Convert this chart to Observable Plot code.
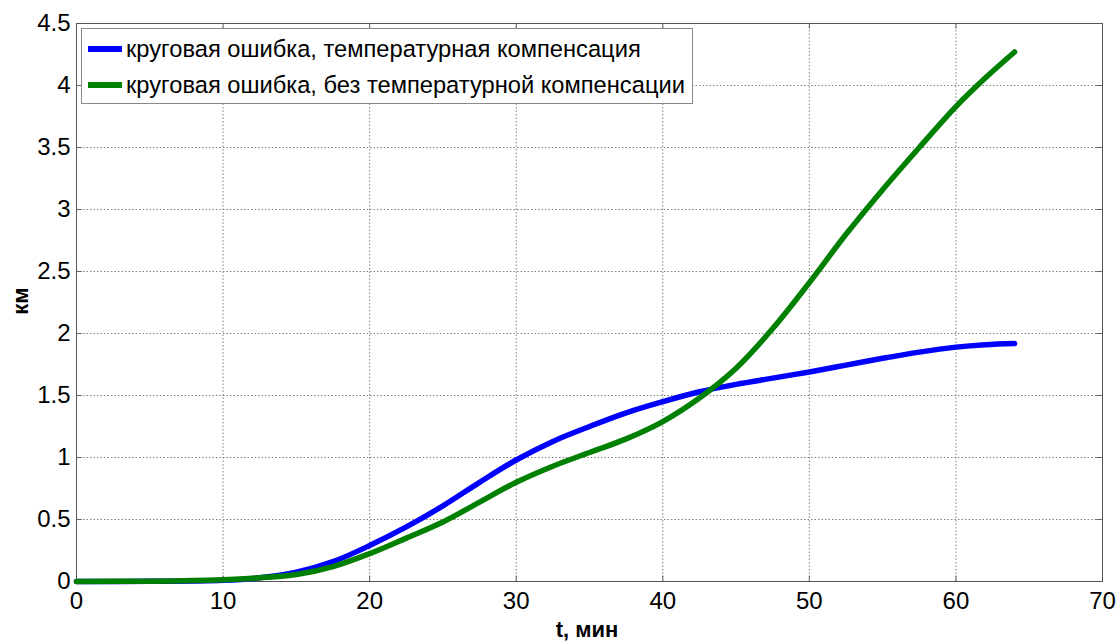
<!DOCTYPE html>
<html>
<head>
<meta charset="utf-8">
<script src="https://cdn.jsdelivr.net/npm/d3@7"></script>
<script src="https://cdn.jsdelivr.net/npm/@observablehq/plot@0.6"></script>
<style>
  html, body { margin: 0; padding: 0; background: #fff; }
  #wrap { position: relative; width: 1117px; height: 643px; font-family: "Liberation Sans", Arial, sans-serif; }
  #legend {
    position: absolute; left: 81px; top: 28px; width: 610px; height: 74px;
    background: #fff; border: 1px solid #8a8a8a; box-sizing: content-box;
  }
  .item { position: absolute; left: 0; height: 36px; display: flex; align-items: center; }
  .swatch { width: 34px; height: 6px; margin-left: 6px; margin-right: 4px; }
  .lbl { font-size: 23.7px; color: #000; white-space: nowrap; }
</style>
</head>
<body>
<div id="wrap"></div>
<script>
// Time, minutes
const t = [0, 5, 10, 12.5, 15, 17.5, 20, 22.5, 25, 27.5, 30, 32.5, 35, 37.5, 40, 42.5, 45, 47.5, 50, 52.5, 55, 57.5, 60, 62, 64];
// Circular error with temperature compensation, km
const withComp = [0, 0.002, 0.01, 0.03, 0.075, 0.16, 0.29, 0.44, 0.61, 0.80, 0.98, 1.13, 1.25, 1.36, 1.45, 1.53, 1.59, 1.64, 1.69, 1.745, 1.80, 1.85, 1.89, 1.91, 1.92];
// Circular error without temperature compensation, km
const noComp = [0, 0.003, 0.015, 0.03, 0.056, 0.12, 0.225, 0.35, 0.48, 0.64, 0.80, 0.93, 1.04, 1.15, 1.29, 1.48, 1.72, 2.04, 2.41, 2.80, 3.16, 3.50, 3.83, 4.06, 4.27];

const seriesNames = ["круговая ошибка, температурная компенсация", "круговая ошибка, без температурной компенсации"];
const seriesColors = ["#0000ff", "#008000"];
const xTicks = [0, 10, 20, 30, 40, 50, 60, 70];
const yTicks = [0, 0.5, 1, 1.5, 2, 2.5, 3, 3.5, 4, 4.5];

const rows = (ys) => t.map((x, i) => ({t: x, v: ys[i]}));
const gridStyle = {stroke: "#808080", strokeOpacity: 1, strokeDasharray: "1.5,2", strokeWidth: 1};

const chart = Plot.plot({
  width: 1117,
  height: 643,
  marginLeft: 76,
  marginRight: 15,
  marginTop: 23,
  marginBottom: 62,
  style: {fontFamily: "Liberation Sans, Arial, sans-serif", background: "#fff", color: "#000"},
  x: {domain: [0, 70]},
  y: {domain: [0, 4.5]},
  marks: [
    Plot.ruleX(xTicks.slice(1, -1), {...gridStyle}),
    Plot.ruleY(yTicks.slice(1, -1), {...gridStyle}),
    // inward tick marks on all four sides
    Plot.ruleX(xTicks, {y1: 0, y2: 0.045, stroke: "#666"}),
    Plot.ruleX(xTicks, {y1: 4.455, y2: 4.5, stroke: "#666"}),
    Plot.ruleY(yTicks, {x1: 0, x2: 0.4, stroke: "#666"}),
    Plot.ruleY(yTicks, {x1: 69.6, x2: 70, stroke: "#666"}),
    Plot.frame({stroke: "#555", strokeWidth: 1}),
    Plot.axisX({ticks: xTicks, tickSize: 0, tickPadding: 10, fontSize: 24, label: null, tickFormat: d => String(d)}),
    Plot.axisY({ticks: yTicks, tickSize: 0, tickPadding: 6, fontSize: 24, label: null, tickFormat: d => String(d)}),
    Plot.line(rows(withComp), {x: "t", y: "v", stroke: seriesColors[0], strokeWidth: 5.5, curve: "catmull-rom"}),
    Plot.line(rows(noComp), {x: "t", y: "v", stroke: seriesColors[1], strokeWidth: 5.5, curve: "catmull-rom"})
  ]
});

const wrap = document.getElementById("wrap");
wrap.appendChild(chart);

// Axis titles
const svg = d3.select(chart);
svg.append("text")
  .attr("x", 587).attr("y", 637)
  .attr("text-anchor", "middle")
  .attr("font-size", 22).attr("font-weight", "bold")
  .attr("fill", "#000")
  .text("t, мин");
svg.append("text")
  .attr("transform", "translate(28,301) rotate(-90)")
  .attr("text-anchor", "middle")
  .attr("font-size", 22).attr("font-weight", "bold")
  .attr("fill", "#000")
  .text("км");

// Legend box inside the plot area
const legend = document.createElement("div");
legend.id = "legend";
seriesNames.forEach((name, i) => {
  const item = document.createElement("div");
  item.className = "item";
  item.style.top = (2 + i * 36) + "px";
  const sw = document.createElement("div");
  sw.className = "swatch";
  sw.style.background = seriesColors[i];
  const lb = document.createElement("span");
  lb.className = "lbl";
  lb.textContent = name;
  item.appendChild(sw);
  item.appendChild(lb);
  legend.appendChild(item);
});
wrap.appendChild(legend);
</script>
</body>
</html>
